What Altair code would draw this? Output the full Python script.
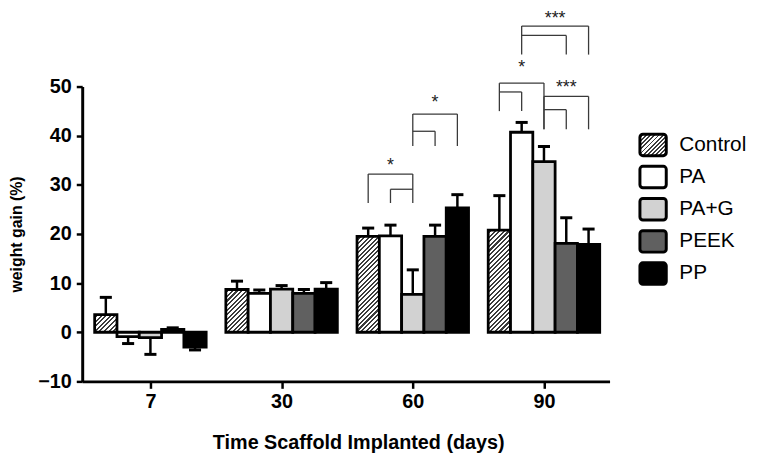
import altair as alt
import pandas as pd

# ---------------- data ----------------
days = ["7", "30", "60", "90"]
series = ["Control", "PA", "PA+G", "PEEK", "PP"]

control_mean = [3.6, 8.7, 19.5, 20.8]
pa_mean = [-0.9, 7.9, 19.6, 40.7]
pag_mean = [-1.1, 8.8, 7.7, 34.7]
peek_mean = [0.6, 7.9, 19.5, 18.1]
pp_mean = [-3.0, 8.8, 25.3, 17.9]

control_sem = [3.5, 1.7, 1.7, 7.0]
pa_sem = [1.4, 0.7, 2.2, 2.0]
pag_sem = [3.4, 0.7, 5.0, 3.1]
peek_sem = [0.3, 0.8, 2.3, 5.2]
pp_sem = [0.6, 1.3, 2.7, 3.1]

# significance brackets (left / middle / right bars of one bracket)
bracket_day = ["60", "60", "90", "90", "90"]
bracket_left = ["Control", "PA+G", "Control", "PA+G", "PA"]
bracket_mid = ["PA", "PEEK", "PA", "PEEK", "PEEK"]
bracket_right = ["PA+G", "PP", "PA+G", "PP", "PP"]
bracket_inner_side = ["right", "left", "left", "left", "left"]
bracket_top = [32.2, 44.4, 50.7, 48.0, 62.3]
bracket_inner = [29.1, 40.9, 48.9, 45.3, 60.4]
bracket_bottom_left = [26.3, 37.9, 45.0, 41.3, 56.5]
bracket_bottom_mid = [26.3, 37.9, 45.0, 41.3, 56.5]
bracket_bottom_right = [26.3, 37.9, 41.3, 41.3, 56.5]
bracket_label = ["*", "*", "*", "***", "***"]
bracket_label_y = [34.9, 47.6, 54.7, 50.7, 64.8]

means = [control_mean, pa_mean, pag_mean, peek_mean, pp_mean]
sems = [control_sem, pa_sem, pag_sem, peek_sem, pp_sem]
fill_colors = ["#ffffff", "#ffffff", "#d2d2d2", "#606060", "#000000"]

# ---------------- layout ----------------
PLOT_W, PLOT_H = 533, 298
x_domain = [-0.52, 3.5]
y_domain = [-10, 50]
bar_w = 0.17
cap_half = 0.046
px_x = PLOT_W / (x_domain[1] - x_domain[0])
px_y = PLOT_H / (y_domain[1] - y_domain[0])
bar_px = bar_w * px_x
FONT = "Liberation Sans"


def slot(day, s):
    return days.index(day) + (series.index(s) - 2) * bar_w


rows = []
for s, m, e in zip(series, means, sems):
    for d, v, err in zip(days, m, e):
        x = slot(d, s)
        end = v + err if v >= 0 else v - err
        rows.append(dict(series=s, day=d, value=v, end=end, x=x,
                         xl=x - bar_w / 2, xr=x + bar_w / 2,
                         cl=x - cap_half, cr=x + cap_half, base=0))
df = pd.DataFrame(rows)


def hatch(w, h, period=4.6, dark="#3c3c3c", light="#ffffff", frac=0.45):
    m = (w * w + h * h) / (w + h)
    n = (w + h) / period
    stops = []
    k = 0
    while k < n:
        a = min(k / n, 1)
        b = min((k + 1 - frac) / n, 1)
        c = min((k + 1) / n, 1)
        stops += [{"offset": a, "color": light}, {"offset": b, "color": light},
                  {"offset": b, "color": dark}, {"offset": c, "color": dark}]
        k += 1
    return {"gradient": "linear", "x1": 0, "y1": 0, "x2": w / m, "y2": h / m,
            "stops": stops}


bar_cond = [
    {"test": f"datum.series === 'Control' && datum.day === '{d}'",
     "value": hatch(bar_px, abs(v) * px_y)}
    for d, v in zip(days, control_mean)
]

fill_scale = alt.Scale(domain=series, range=fill_colors)
x_scale = alt.Scale(domain=x_domain, nice=False, zero=False)
y_scale = alt.Scale(domain=y_domain, nice=False, zero=False)

label_expr = "[" + ",".join(f"'{d}'" for d in days) + "][datum.value]"

X = alt.X("xl:Q", scale=x_scale,
          axis=alt.Axis(values=list(range(len(days))), labelExpr=label_expr,
                        title="Time Scaffold Implanted (days)", titleX=279,
                        tickSize=7, tickWidth=2.5, domainWidth=3, labelPadding=3,
                        titlePadding=22, grid=False))
Y = alt.Y("base:Q", scale=y_scale,
          axis=alt.Axis(values=list(range(-10, 51, 10)), title="weight gain (%)",
                        titleFontSize=16, tickSize=6, tickWidth=2.5, domainWidth=3,
                        labelPadding=5, titlePadding=13, grid=False))

bars = alt.Chart(df).mark_rect(stroke="black", strokeWidth=2.8).encode(
    x=X, x2="xr:Q", y=Y, y2="value:Q",
    fill=alt.Fill("series:N", scale=fill_scale, legend=None, condition=bar_cond),
)

err = alt.Chart(df).mark_rule(color="black", strokeWidth=2.5).encode(
    x="x:Q", y="value:Q", y2="end:Q")
caps = alt.Chart(df).mark_rule(color="black", strokeWidth=3).encode(
    x="cl:Q", x2="cr:Q", y="end:Q")

# bracket segments
seg = []
lab = []
for i in range(len(bracket_day)):
    d = bracket_day[i]
    xa, xb, xc = slot(d, bracket_left[i]), slot(d, bracket_mid[i]), slot(d, bracket_right[i])
    top, inn = bracket_top[i], bracket_inner[i]
    seg.append(dict(x1=xa, x2=xc, y1=top, y2=top))
    seg.append(dict(x1=xa, x2=xa, y1=top, y2=bracket_bottom_left[i]))
    seg.append(dict(x1=xc, x2=xc, y1=top, y2=bracket_bottom_right[i]))
    if bracket_inner_side[i] == "left":
        seg.append(dict(x1=xa, x2=xb, y1=inn, y2=inn))
    else:
        seg.append(dict(x1=xb, x2=xc, y1=inn, y2=inn))
    seg.append(dict(x1=xb, x2=xb, y1=inn, y2=bracket_bottom_mid[i]))
    lab.append(dict(x=(xa + xc) / 2, y=bracket_label_y[i], t=bracket_label[i]))
seg_df = pd.DataFrame(seg)
lab_df = pd.DataFrame(lab)

brackets = alt.Chart(seg_df).mark_rule(color="#3a3a3a", strokeWidth=1.3).encode(
    x="x1:Q", x2="x2:Q", y="y1:Q", y2="y2:Q")
stars = alt.Chart(lab_df).mark_text(font=FONT, fontSize=18, dy=10,
                                    baseline="alphabetic", color="#222").encode(
    x="x:Q", y="y:Q", text="t:N")

main = alt.layer(bars, err, caps, brackets, stars)

# legend built from marks
leg_df = pd.DataFrame({"series": series})
LY = alt.Y("series:N", scale=alt.Scale(type="point", domain=series,
                                       range=[59, 189], padding=0), axis=None)
sw_w, sw_h = 26.6, 21.7
leg_cond = [{"test": "datum.series === 'Control'", "value": hatch(sw_w, sw_h, period=4.2)}]
swatch = alt.Chart(leg_df).mark_rect(stroke="black", strokeWidth=3, cornerRadius=3,
                                     yOffset=-sw_h / 2, y2Offset=sw_h / 2).encode(
    x=alt.value(563.7), x2=alt.value(563.7 + sw_w), y=LY, y2=alt.Y2("series:N"),
    fill=alt.Fill("series:N", scale=fill_scale, legend=None, condition=leg_cond))
leg_text = alt.Chart(leg_df).mark_text(font=FONT, fontSize=21, align="left",
                                       baseline="middle", color="black").encode(
    x=alt.value(603.5), y=LY, text="series:N")
legend = alt.layer(swatch, leg_text)

chart = alt.layer(main, legend).resolve_scale(y="independent").properties(
    width=PLOT_W, height=PLOT_H,
    background="white",
    autosize=alt.AutoSizeParams(type="none"),
    padding={"left": 75, "top": 77, "right": 147, "bottom": 72},
).configure_view(stroke=None).configure_axis(
    labelFont=FONT, labelFontSize=20, labelFontWeight="bold", labelColor="black",
    titleFont=FONT, titleFontSize=20, titleFontWeight="bold", titleColor="black",
    domainColor="black", tickColor="black",
)

chart.save("out.html", embed_options={"renderer": "svg", "actions": False})
